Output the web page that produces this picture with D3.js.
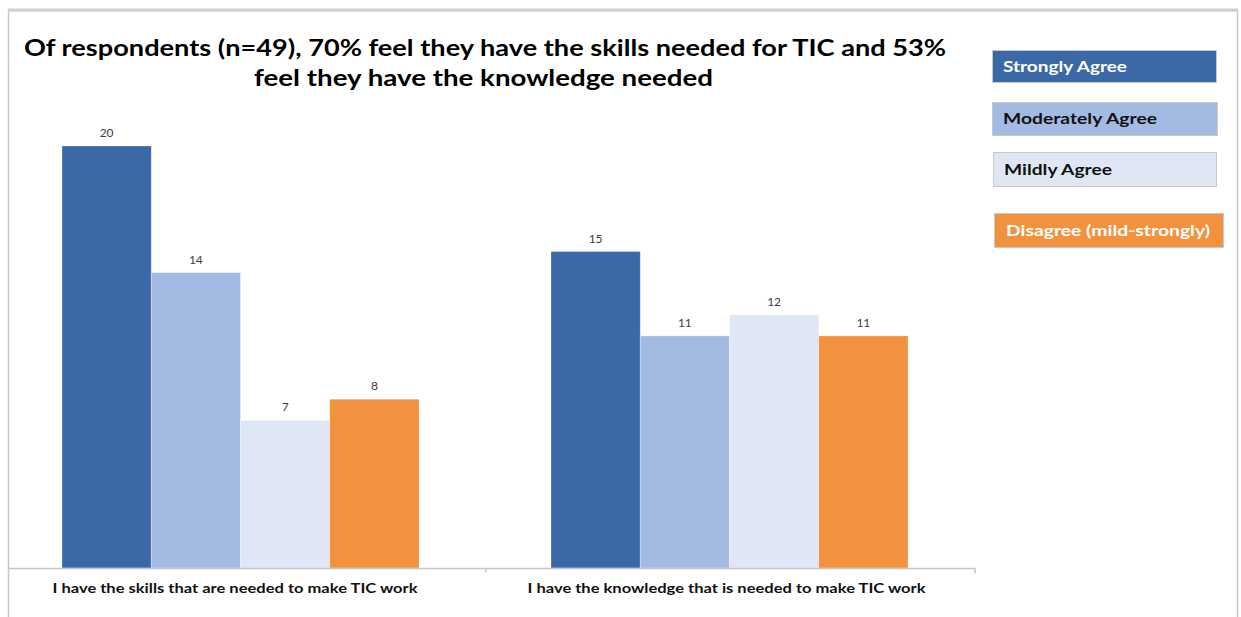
<!DOCTYPE html>
<html>
<head>
<meta charset="utf-8">
<script src="https://cdn.jsdelivr.net/npm/d3@7"></script>
<style>
  html, body { margin: 0; padding: 0; background: #ffffff; }
  svg { display: block; }
</style>
</head>
<body>
<svg id="chart" width="1241" height="617"></svg>
<script>
// Survey responses by statement and agreement level
const categories = [
  "I have the skills that are needed to make TIC work",
  "I have the knowledge that is needed to make TIC work"
];
const seriesNames = ["Strongly Agree", "Moderately Agree", "Mildly Agree", "Disagree (mild-strongly)"];
const strongly   = [20, 15];
const moderately = [14, 11];
const mildly     = [7, 12];
const disagree   = [8, 11];
const titleLines = [
  "Of respondents (n=49), 70% feel they have the skills needed for TIC and 53%",
  "feel they have the knowledge needed"
];

const seriesValues = [strongly, moderately, mildly, disagree];
const colors = ["#3b69a8", "#a3bbe2", "#e0e7f4", "#f3923e"];
const legendText = ["#ffffff", "#111111", "#111111", "#ffffff"];

const svg = d3.select("#chart");
const font = "Lato, 'Open Sans', sans-serif";

// Outer frame
svg.append("rect")
  .attr("x", 8.5).attr("y", 10.5)
  .attr("width", 1229).attr("height", 640)
  .attr("fill", "#ffffff")
  .attr("stroke", "#c8c8c8").attr("stroke-width", 1.5);
svg.append("line")
  .attr("x1", 8).attr("x2", 1238).attr("y1", 10).attr("y2", 10)
  .attr("stroke", "#cfcfcf").attr("stroke-width", 3);

// Title (set in a wide, stretched face)
const titleLayout = [
  { cx: 485, len: 922 },
  { cx: 483.5, len: 459 }
];
svg.append("g").selectAll("text").data(titleLines).join("text")
  .attr("x", (d, i) => titleLayout[i].cx)
  .attr("y", (d, i) => 56 + i * 30)
  .attr("text-anchor", "middle")
  .attr("font-family", font)
  .attr("font-weight", "bold")
  .attr("font-size", 23.5)
  .attr("textLength", (d, i) => titleLayout[i].len)
  .attr("lengthAdjust", "spacingAndGlyphs")
  .attr("fill", "#000")
  .text(d => d);

// Scales
const baseline = 568;
const y = d3.scaleLinear().domain([0, 20]).range([baseline, 146]);
const x0 = d3.scaleBand().domain(categories).range([-3, 975]).padding(0);
const x1 = d3.scaleBand().domain(seriesNames)
  .range([65, x0.bandwidth() - 67]).padding(0);

const rows = categories.map((c, ci) => ({
  cat: c,
  vals: seriesNames.map((s, si) => ({ s, si, v: seriesValues[si][ci] }))
}));

svg.append("clipPath").attr("id", "frame")
  .append("rect").attr("x", 9).attr("y", 11).attr("width", 1228).attr("height", 640);

const plot = svg.append("g").attr("clip-path", "url(#frame)");

const groups = plot.selectAll("g.grp").data(rows).join("g")
  .attr("class", "grp")
  .attr("transform", d => `translate(${x0(d.cat)},0)`);

groups.selectAll("rect").data(d => d.vals).join("rect")
  .attr("x", d => x1(d.s))
  .attr("y", d => y(d.v))
  .attr("width", x1.bandwidth())
  .attr("height", d => baseline - y(d.v))
  .attr("fill", d => colors[d.si])
  .attr("stroke", "#ffffff").attr("stroke-opacity", 0.35).attr("stroke-width", 0.8);

groups.selectAll("text.val").data(d => d.vals).join("text")
  .attr("class", "val")
  .attr("x", d => x1(d.s) + x1.bandwidth() / 2)
  .attr("y", d => y(d.v) - 9)
  .attr("text-anchor", "middle")
  .attr("font-family", font)
  .attr("font-size", 12)
  .attr("fill", "#404040")
  .text(d => d.v);

// Category axis
const axis = plot.append("g")
  .attr("transform", `translate(0,${baseline + 0.5})`)
  .call(d3.axisBottom(x0).tickSize(0).tickFormat(""));
axis.select(".domain").attr("stroke", "#c4c4c4").attr("stroke-width", 1.5)
  .attr("d", `M-3,0H975V5`);
axis.selectAll(".tick").remove();
axis.append("g").selectAll("line").data(categories.slice(1)).join("line")
  .attr("x1", d => x0(d)).attr("x2", d => x0(d))
  .attr("y1", 0).attr("y2", 4)
  .attr("stroke", "#c4c4c4").attr("stroke-width", 1.5);

const catLayout = [
  { dx: -6.5, len: 365 },
  { dx: -4, len: 398 }
];
plot.append("g").selectAll("text").data(categories).join("text")
  .attr("x", (d, i) => x0(d) + x0.bandwidth() / 2 + catLayout[i].dx)
  .attr("y", 593)
  .attr("text-anchor", "middle")
  .attr("font-family", font)
  .attr("font-weight", "bold")
  .attr("font-size", 14)
  .attr("textLength", (d, i) => catLayout[i].len)
  .attr("lengthAdjust", "spacingAndGlyphs")
  .attr("fill", "#111")
  .text(d => d);

// Legend
const legendBoxes = [
  { x: 992, y: 50, w: 224, h: 32, tx: 1003, len: 124 },
  { x: 992, y: 102, w: 225, h: 33, tx: 1003, len: 154 },
  { x: 993, y: 152, w: 223, h: 34, tx: 1004, len: 108 },
  { x: 994, y: 213, w: 229, h: 34, tx: 1006, len: 204 }
];
const lg = svg.append("g").selectAll("g").data(seriesNames).join("g");
lg.append("rect")
  .attr("x", (d, i) => legendBoxes[i].x + 0.5)
  .attr("y", (d, i) => legendBoxes[i].y + 0.5)
  .attr("width", (d, i) => legendBoxes[i].w)
  .attr("height", (d, i) => legendBoxes[i].h)
  .attr("fill", (d, i) => colors[i])
  .attr("stroke", "#c9c9c9").attr("stroke-width", 1);
lg.append("text")
  .attr("x", (d, i) => legendBoxes[i].tx)
  .attr("y", (d, i) => legendBoxes[i].y + legendBoxes[i].h / 2 + 5.5)
  .attr("font-family", font)
  .attr("font-weight", "bold")
  .attr("font-size", 15.5)
  .attr("textLength", (d, i) => legendBoxes[i].len)
  .attr("lengthAdjust", "spacingAndGlyphs")
  .attr("fill", (d, i) => legendText[i])
  .text(d => d);
</script>
</body>
</html>
